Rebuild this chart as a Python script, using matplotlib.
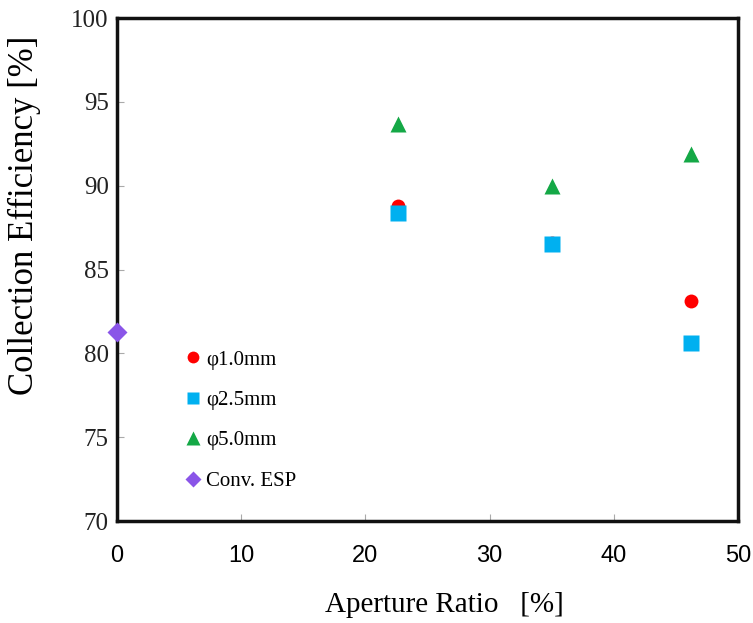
import matplotlib.pyplot as plt

# aperture ratio [%] and collection efficiency [%]
aperture = [22.6, 35.0, 46.2]
eff_d10 = [88.8, 86.6, 83.1]
eff_d25 = [88.4, 86.5, 80.6]
eff_d50 = [93.7, 90.0, 91.9]
conv_x = [0.0]
conv_eff = [81.3]

labels = ['φ1.0mm', 'φ2.5mm', 'φ5.0mm', 'Conv. ESP']
colors = ['#ff0000', '#00b0f0', '#14a846', '#8a55e8']

serif = ['Liberation Serif', 'DejaVu Serif']
narrow = ['Liberation Sans Narrow', 'Liberation Sans', 'DejaVu Sans']

fig = plt.figure(figsize=(7.53, 6.23), dpi=100)
ax = fig.add_axes([0.1554, 0.1637, 0.8246, 0.8073])

ax.plot(aperture, eff_d10, 'o', color=colors[0], ms=10, mec='none', label=labels[0])
ax.plot(aperture, eff_d25, 's', color=colors[1], ms=11, mec='none', label=labels[1])
ax.plot(aperture, eff_d50, '^', color=colors[2], ms=12, mec='none', label=labels[2])
ax.plot(conv_x, conv_eff, 'D', color=colors[3], ms=10, mec='none', label=labels[3],
        clip_on=False, zorder=5)

ax.set_xlim(0, 50)
ax.set_ylim(70, 100)
ax.set_xticks(range(0, 51, 10))
ax.set_yticks(range(70, 101, 5))

for s in ax.spines.values():
    s.set_linewidth(2.5)
    s.set_color('#111111')

ax.tick_params(direction='in', length=5, width=0.8, color='#aaaaaa')
ax.tick_params(axis='x', pad=17)
ax.tick_params(axis='y', pad=6)
for t in ax.get_yticklabels():
    t.set_fontfamily(serif)
    t.set_fontsize(18)
    t.set_color('#222222')
for t in ax.get_xticklabels():
    t.set_fontfamily(narrow)
    t.set_fontsize(17)

ax.set_xlabel('Aperture Ratio   [%]', fontfamily=serif, fontsize=21)
ax.xaxis.set_label_coords(0.527, -0.141)
ax.set_ylabel('Collection Efficiency [%]', fontfamily=serif, fontsize=25)
ax.yaxis.set_label_coords(-0.123, 0.608)

leg = ax.legend(loc='lower left', bbox_to_anchor=(0.103, 0.06), frameon=False,
                prop={'family': serif, 'size': 15}, handletextpad=0.0,
                labelspacing=1.0, markerscale=0.85, handlelength=1.2,
                borderpad=0, borderaxespad=0)

fig.savefig('out.png', dpi=100)
